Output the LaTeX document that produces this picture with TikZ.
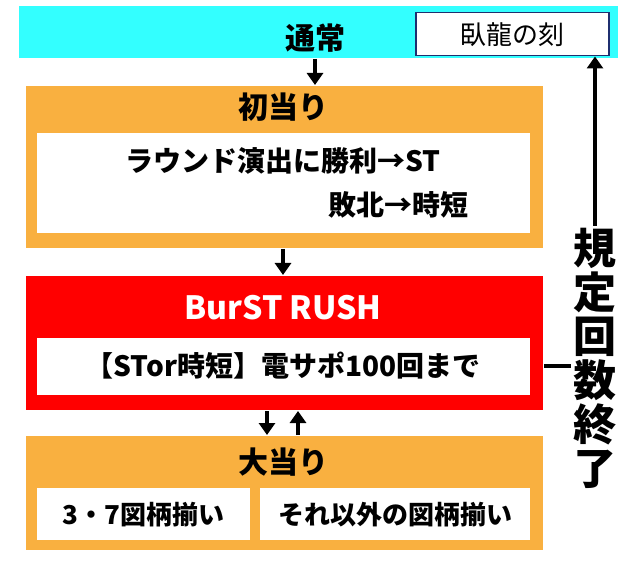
\documentclass[tikz,border=0pt]{standalone}
\usepackage{fontspec}
\setmainfont{Noto Sans CJK JP}
\usetikzlibrary{arrows.meta,positioning}
\definecolor{barcyan}{HTML}{33FFFF}
\definecolor{boxorange}{HTML}{F9B040}
\definecolor{rushred}{HTML}{FF0000}
\definecolor{navyline}{HTML}{1F2F6F}
\tikzset{
  panel/.style={draw=white, line width=1pt, anchor=north west, inner sep=0pt},
  inbox/.style={draw=none, fill=white, anchor=north west, inner sep=0pt},
  ttl/.style={font=\bfseries\fontsize{30}{32}\selectfont},
  txt/.style={font=\bfseries\fontsize{28}{30}\selectfont},
  flow/.style={line width=3.5pt, -{Triangle[length=12pt,width=16pt]}},
}
\begin{document}
\begin{tikzpicture}[x=1pt,y=-1pt]
  \useasboundingbox (0,0) rectangle (640,569);
  % top bar
  \node[panel, fill=barcyan, minimum width=600, minimum height=53] (bar) at (18,5) {};
  \node[ttl] (normal) at (315,38) {通常};
  \node[inbox, draw=navyline, line width=1.5pt, minimum width=193, minimum height=43] (garyu) at (415,12) {};
  \node[font=\fontsize{26}{28}\selectfont] at (garyu.center) {臥龍の刻};
  % first hit
  \node[panel, fill=boxorange, minimum width=518, minimum height=163] (first) at (25,85) {};
  \node[ttl] (firstttl) at (283,107) {初当り};
  \node[inbox, minimum width=493, minimum height=100] (firstin) at (37,133) {};
  \node[txt] (battle) at (283,161) {ラウンド演出に勝利→ST};
  \node[txt] (lose) at (398,205) {敗北→時短};
  % rush
  \node[panel, fill=rushred, minimum width=518, minimum height=135] (rush) at (25,275) {};
  \node[ttl, text=white, font=\bfseries\fontsize{32}{34}\selectfont] (rushttl) at (283,308) {BurST RUSH};
  \node[inbox, minimum width=493, minimum height=57] (rushin) at (37,338) {};
  \node[txt] (support) at (283,366) {【STor時短】電サポ100回まで};
  % big hit
  \node[panel, fill=boxorange, minimum width=518, minimum height=115] (big) at (25,435) {};
  \node[ttl] (bigttl) at (283,462) {大当り};
  \node[inbox, minimum width=213, minimum height=52] (seven) at (37,488) {};
  \node[txt, font=\bfseries\fontsize{26}{28}\selectfont] at (seven.center) {3・7図柄揃い};
  \node[inbox, minimum width=270, minimum height=52] (other) at (260,488) {};
  \node[txt, font=\bfseries\fontsize{26}{28}\selectfont] at (other.center) {それ以外の図柄揃い};
  % arrows
  \draw[flow] (bar.south -| normal) -- (first.north -| normal);
  \draw[flow] (first.south -| firstttl) -- (rush.north -| firstttl);
  \coordinate (dn) at (267,0);
  \coordinate (up) at (298,0);
  \draw[flow] (rush.south -| dn) -- (big.north -| dn);
  \draw[flow] (big.north -| up) -- (rush.south -| up);
  % limit reached
  \node[fill=white, inner sep=2pt, align=center, font=\bfseries\fontsize{43}{44}\selectfont] (limit) at (595,358) {規\\定\\回\\数\\終\\了};
  \draw[line width=3.5pt] (rush.east |- support) -- (limit.west |- support);
  \draw[flow] (limit.north) -- (garyu.south -| limit);
\end{tikzpicture}
\end{document}
